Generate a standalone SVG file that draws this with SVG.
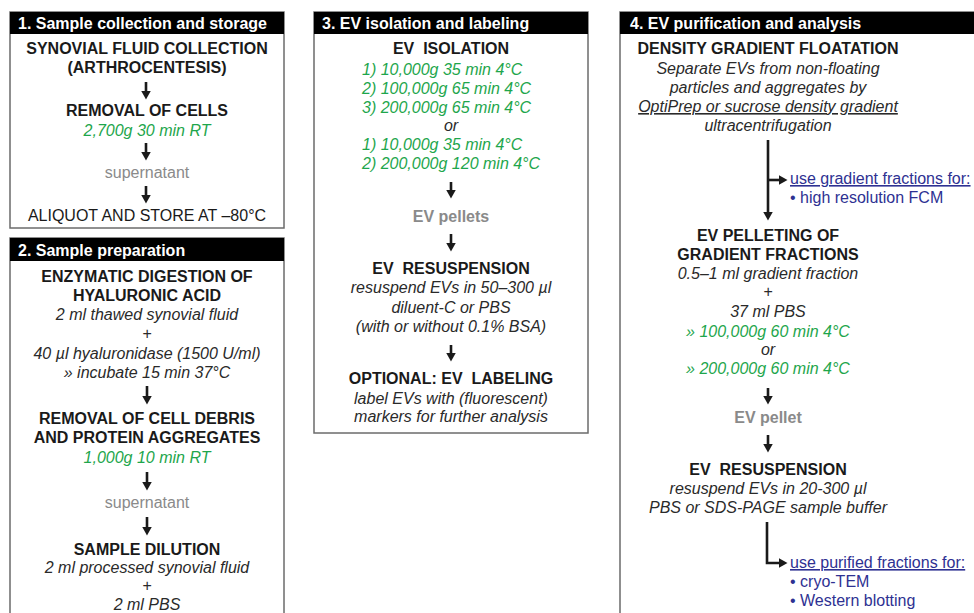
<svg xmlns="http://www.w3.org/2000/svg" width="974" height="613" viewBox="0 0 974 613">
<style>
text{font-family:"Liberation Sans",Arial,sans-serif;font-size:16px}
.box{fill:#fff;stroke:#6b6b6b;stroke-width:1.5}
.hdr{fill:#000}
.ht{font-weight:bold;fill:#fff}
.c{text-anchor:middle}
.b{font-weight:bold;fill:#1a1a1a}
.i{font-style:italic;fill:#2a2a2a}
.g{font-style:italic;fill:#1ea64c}
.gr{fill:#8a8a8a}
.gb{font-weight:bold;fill:#8a8a8a}
.bl{fill:#2e3192}
.u{text-decoration:underline}
.n{fill:#1a1a1a}
.ar{stroke:#1a1a1a;stroke-width:2.6;fill:none;marker-end:url(#ah)}
</style>
<defs>
<marker id="ah" viewBox="0 0 9 10" markerWidth="9" markerHeight="10" refX="0.5" refY="5" orient="auto" markerUnits="userSpaceOnUse">
<path d="M0,0 L9,5 L0,10 z" fill="#1a1a1a"/>
</marker>
</defs>

<g id="panel1">
<rect class="box" x="10" y="12" width="274" height="216"/>
<rect class="hdr" x="10" y="12" width="274" height="22"/>
<text class="ht" x="18" y="29">1. Sample collection and storage</text>
<text class="b c" x="147" y="54">SYNOVIAL FLUID COLLECTION</text>
<text class="b c" x="147" y="73">(ARTHROCENTESIS)</text>
<text class="b c" x="147" y="116">REMOVAL OF CELLS</text>
<text class="g c" x="147" y="136">2,700g 30 min RT</text>
<text class="gr c" x="147" y="178">supernatant</text>
<text class="n c" x="147" y="221">ALIQUOT AND STORE AT –80°C</text>
</g>

<g id="panel2">
<rect class="box" x="10" y="238" width="274" height="390"/>
<rect class="hdr" x="10" y="238" width="274" height="23"/>
<text class="ht" x="18" y="256">2. Sample preparation</text>
<text class="b c" x="147" y="282">ENZYMATIC DIGESTION OF</text>
<text class="b c" x="147" y="301">HYALURONIC ACID</text>
<text class="i c" x="147" y="320">2 ml thawed synovial fluid</text>
<text class="i c" x="147" y="339">+</text>
<text class="i c" x="147" y="359">40 µl hyaluronidase (1500 U/ml)</text>
<text class="i c" x="147" y="378">» incubate 15 min 37°C</text>
<text class="b c" x="147" y="424">REMOVAL OF CELL DEBRIS</text>
<text class="b c" x="147" y="443">AND PROTEIN AGGREGATES</text>
<text class="g c" x="147" y="463">1,000g 10 min RT</text>
<text class="gr c" x="147" y="508">supernatant</text>
<text class="b c" x="147" y="555">SAMPLE DILUTION</text>
<text class="i c" x="147" y="573">2 ml processed synovial fluid</text>
<text class="i c" x="147" y="591">+</text>
<text class="i c" x="147" y="610">2 ml PBS</text>
</g>

<g id="panel3">
<rect class="box" x="314" y="12" width="274" height="421"/>
<rect class="hdr" x="314" y="12" width="274" height="22"/>
<text class="ht" x="322" y="29">3. EV isolation and labeling</text>
<text class="b c" x="451" y="54" xml:space="preserve">EV  ISOLATION</text>
<text class="g" x="362" y="75">1) 10,000g 35 min 4°C</text>
<text class="g" x="362" y="94">2) 100,000g 65 min 4°C</text>
<text class="g" x="362" y="113">3) 200,000g 65 min 4°C</text>
<text class="i c" x="451" y="131">or</text>
<text class="g" x="362" y="150">1) 10,000g 35 min 4°C</text>
<text class="g" x="362" y="169">2) 200,000g 120 min 4°C</text>
<text class="gb c" x="451" y="222">EV pellets</text>
<text class="b c" x="451" y="274" xml:space="preserve">EV  RESUSPENSION</text>
<text class="i c" x="451" y="293">resuspend EVs in 50–300 µl</text>
<text class="i c" x="451" y="313">diluent-C or PBS</text>
<text class="i c" x="451" y="332">(with or without 0.1% BSA)</text>
<text class="b c" x="451" y="384" xml:space="preserve">OPTIONAL: EV  LABELING</text>
<text class="i c" x="451" y="404">label EVs with (fluorescent)</text>
<text class="i c" x="451" y="422">markers for further analysis</text>
</g>

<g id="panel4">
<rect class="box" x="620" y="12" width="370" height="620"/>
<rect class="hdr" x="620" y="12" width="370" height="22"/>
<text class="ht" x="630" y="29">4. EV purification and analysis</text>
<text class="b c" x="768" y="54">DENSITY GRADIENT FLOATATION</text>
<text class="i c" x="768" y="74">Separate EVs from non-floating</text>
<text class="i c" x="768" y="93">particles and aggregates by</text>
<text class="i c u" x="768" y="112">OptiPrep or sucrose density gradient</text>
<text class="i c" x="768" y="131">ultracentrifugation</text>
<text class="bl u" x="790" y="184">use gradient fractions for:</text>
<text class="bl" x="790" y="203">• high resolution FCM</text>
<text class="b c" x="768" y="241">EV PELLETING OF</text>
<text class="b c" x="768" y="260">GRADIENT FRACTIONS</text>
<text class="i c" x="768" y="279">0.5–1 ml gradient fraction</text>
<text class="i c" x="768" y="297">+</text>
<text class="i c" x="768" y="317">37 ml PBS</text>
<text class="g c" x="768" y="337">» 100,000g 60 min 4°C</text>
<text class="i c" x="768" y="355">or</text>
<text class="g c" x="768" y="374">» 200,000g 60 min 4°C</text>
<text class="gb c" x="768" y="423">EV pellet</text>
<text class="b c" x="768" y="475" xml:space="preserve">EV  RESUSPENSION</text>
<text class="i c" x="768" y="494">resuspend EVs in 20-300 µl</text>
<text class="i c" x="768" y="513">PBS or SDS-PAGE sample buffer</text>
<text class="bl u" x="790" y="568">use purified fractions for:</text>
<text class="bl" x="790" y="587">• cryo-TEM</text>
<text class="bl" x="790" y="606">• Western blotting</text>
</g>

<g id="connectors">
<path class="ar" d="M146,82 V91"/>
<path class="ar" d="M146,143 V152"/>
<path class="ar" d="M146,186 V195"/>
<path class="ar" d="M147,386 V396"/>
<path class="ar" d="M147,472 V482"/>
<path class="ar" d="M147,517 V527"/>
<path class="ar" d="M451,182 V190"/>
<path class="ar" d="M451,234 V243"/>
<path class="ar" d="M451,345 V353"/>
<path class="ar" d="M768,140 V212"/>
<path class="ar" d="M768,180 H779"/>
<path class="ar" d="M768,388 V396"/>
<path class="ar" d="M768,435 V444"/>
<path class="ar" d="M767,522 V563 H779"/>
</g>
</svg>
